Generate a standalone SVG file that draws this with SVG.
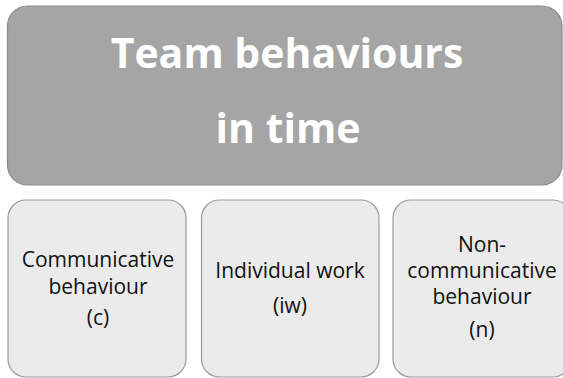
<svg xmlns="http://www.w3.org/2000/svg" width="563" height="378" viewBox="0 0 563 378">
  <style>
    .title { fill: #a5a5a5; stroke: #8c8c8c; stroke-width: 1.2; }
    .card { fill: #ebebeb; stroke: #9a9a9a; stroke-width: 1.2; }
    .head { font-family: "Open Sans", "Liberation Sans", sans-serif; font-weight: bold; font-size: 41px; fill: #ffffff; text-anchor: middle; }
    .lbl { font-family: "Open Sans", "Liberation Sans", sans-serif; font-size: 21px; fill: #111111; text-anchor: middle; }
  </style>
  <rect width="563" height="378" fill="#ffffff"/>

  <g id="team-behaviours">
    <rect class="title" x="7.5" y="6" width="554.5" height="179" rx="20"/>
    <text class="head" x="287" y="68">Team behaviours</text>
    <text class="head" x="288" y="143">in time</text>
  </g>

  <g id="communicative">
    <rect class="card" x="8" y="200" width="178" height="177" rx="18"/>
    <text class="lbl" x="98" y="267">Communicative</text>
    <text class="lbl" x="98" y="293.5">behaviour</text>
    <text class="lbl" x="98" y="325">(c)</text>
  </g>

  <g id="individual-work">
    <rect class="card" x="201.5" y="200" width="177.5" height="177" rx="18"/>
    <text class="lbl" x="290" y="278">Individual work</text>
    <text class="lbl" x="290" y="313">(iw)</text>
  </g>

  <g id="non-communicative">
    <rect class="card" x="393" y="200" width="178" height="177" rx="18"/>
    <text class="lbl" x="482" y="252">Non-</text>
    <text class="lbl" x="482" y="278">communicative</text>
    <text class="lbl" x="482" y="304">behaviour</text>
    <text class="lbl" x="482" y="337">(n)</text>
  </g>

  <g id="connectors"/>
</svg>
